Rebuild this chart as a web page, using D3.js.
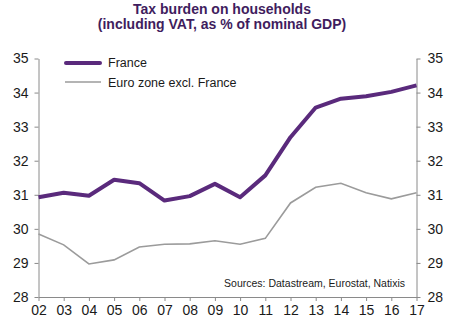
<!DOCTYPE html>
<html>
<head>
<meta charset="utf-8">
<script src="https://cdn.jsdelivr.net/npm/d3@7"></script>
<style>
  body { margin: 0; background: #fff; }
  svg text { font-family: "Liberation Sans", Arial, sans-serif; }
</style>
</head>
<body>
<div id="chart"></div>
<script>
// data
var years = ["02","03","04","05","06","07","08","09","10","11","12","13","14","15","16","17"];
var france = [30.93, 31.06, 30.97, 31.44, 31.34, 30.83, 30.96, 31.32, 30.93, 31.57, 32.69, 33.56, 33.82, 33.89, 34.02, 34.21];
var euroZone = [29.85, 29.53, 28.97, 29.09, 29.47, 29.55, 29.56, 29.65, 29.55, 29.72, 30.76, 31.22, 31.34, 31.06, 30.88, 31.06];
var yTicks = [28, 29, 30, 31, 32, 33, 34, 35];

var W = 456, H = 325;
// plot edges (pixels)
var plot = {x0: 38.5, x1: 416.5, y0: 58.5, y1: 297};

var svg = d3.select("#chart")
  .append("svg")
    .attr("width", W)
    .attr("height", H);

// title
svg.append("text")
  .attr("x", 222).attr("y", 14)
  .attr("text-anchor", "middle")
  .style("font-size", "14px").style("font-weight", "bold")
  .style("fill", "#3f1d5e")
  .text("Tax burden on households");
svg.append("text")
  .attr("x", 222).attr("y", 29)
  .attr("text-anchor", "middle")
  .style("font-size", "14px").style("font-weight", "bold")
  .style("fill", "#3f1d5e")
  .text("(including VAT, as % of nominal GDP)");

var x = d3.scalePoint()
  .domain(years)
  .range([plot.x0, plot.x1]);

var y = d3.scaleLinear()
  .domain([28, 35])
  .range([plot.y1, plot.y0]);

var axisColor = "#8a8a8a";

function styleAxis(g) {
  g.select(".domain").attr("stroke", axisColor);
  g.selectAll(".tick line").attr("stroke", axisColor);
  g.selectAll(".tick text").style("font-size", "14px").style("fill", "#1a1a1a");
}

// left axis
svg.append("g")
  .attr("transform", "translate(" + plot.x0 + ",0)")
  .call(d3.axisLeft(y).tickValues(yTicks).tickFormat(d3.format("d"))
    .tickSize(4).tickSizeOuter(0).tickPadding(6))
  .call(styleAxis);

// right axis
svg.append("g")
  .attr("transform", "translate(" + plot.x1 + ",0)")
  .call(d3.axisRight(y).tickValues(yTicks).tickFormat(d3.format("d"))
    .tickSize(4).tickSizeOuter(0).tickPadding(7))
  .call(styleAxis);

// bottom axis
svg.append("g")
  .attr("transform", "translate(0," + plot.y1 + ")")
  .call(d3.axisBottom(x).tickSize(4).tickSizeOuter(0).tickPadding(4))
  .call(styleAxis);

var line = d3.line()
  .x(function(d, i) { return x(years[i]); })
  .y(function(d) { return y(d); });

svg.append("path")
  .datum(euroZone)
  .attr("d", line)
  .attr("fill", "none")
  .attr("stroke", "#9b9b9b")
  .attr("stroke-width", 1.6);

svg.append("path")
  .datum(france)
  .attr("d", line)
  .attr("fill", "none")
  .attr("stroke", "#5a2a7c")
  .attr("stroke-width", 4)
  .attr("stroke-linejoin", "round");

// legend
var legend = svg.append("g");
legend.append("line")
  .attr("x1", 66).attr("x2", 100).attr("y1", 63).attr("y2", 63)
  .attr("stroke", "#5a2a7c").attr("stroke-width", 4).attr("stroke-linecap", "round");
legend.append("text")
  .attr("x", 108).attr("y", 67)
  .style("font-size", "12.5px").style("fill", "#1a1a1a")
  .text("France");
legend.append("line")
  .attr("x1", 65).attr("x2", 101).attr("y1", 82).attr("y2", 82)
  .attr("stroke", "#9b9b9b").attr("stroke-width", 1.6);
legend.append("text")
  .attr("x", 108).attr("y", 86.5)
  .style("font-size", "12.5px").style("fill", "#1a1a1a")
  .text("Euro zone excl. France");

// source
svg.append("text")
  .attr("x", 405).attr("y", 287)
  .attr("text-anchor", "end")
  .style("font-size", "10.5px").style("fill", "#1a1a1a")
  .text("Sources: Datastream, Eurostat, Natixis");
</script>
</body>
</html>
